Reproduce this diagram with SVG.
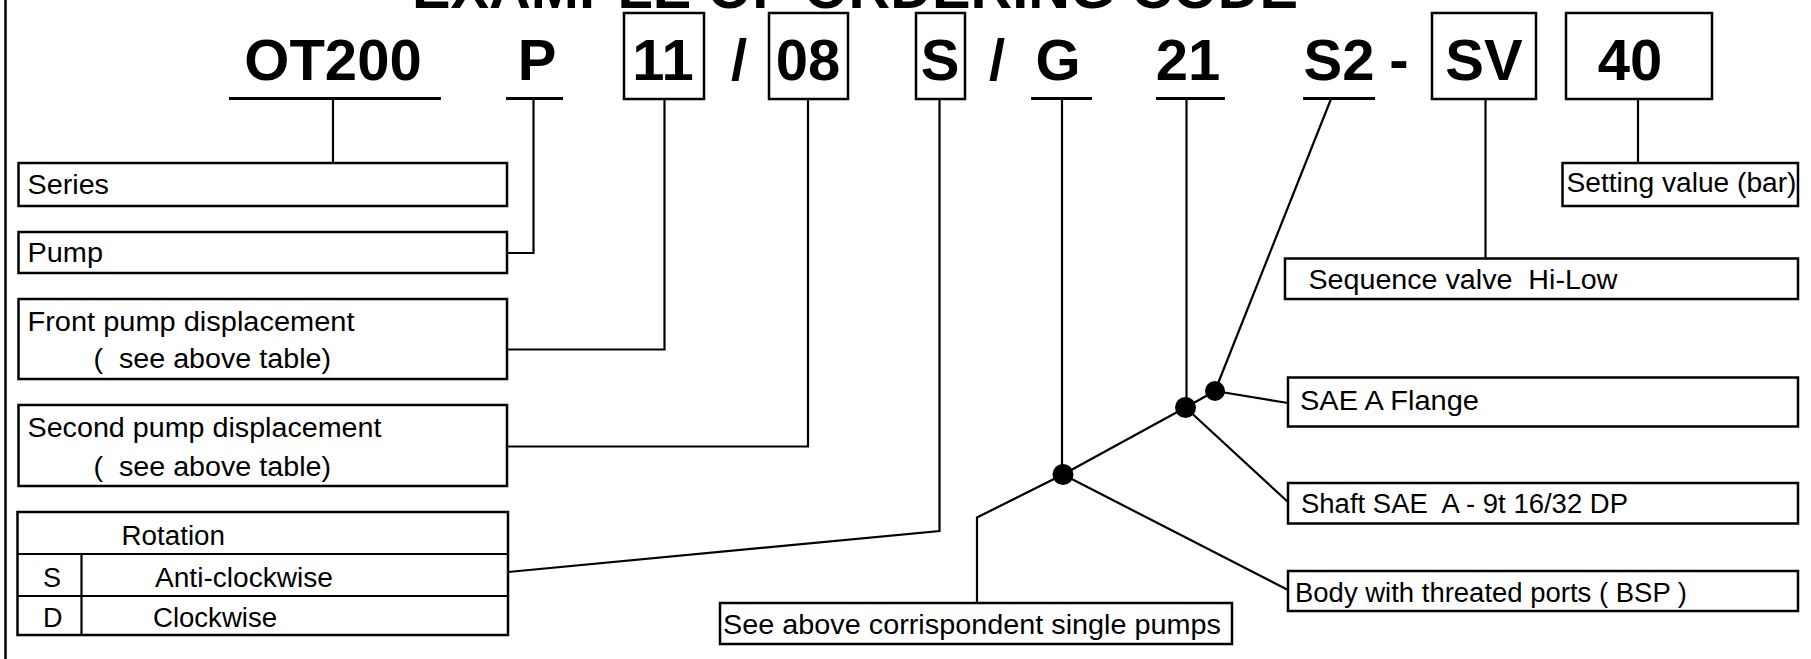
<svg xmlns="http://www.w3.org/2000/svg" width="1811" height="659" viewBox="0 0 1811 659">
<style>
.code{font-family:"Liberation Sans",Arial,sans-serif;font-weight:bold;font-size:58px;fill:#000;text-anchor:middle}
.lbl{font-family:"Liberation Sans",Arial,sans-serif;font-size:27px;fill:#000;white-space:pre}
.box{fill:#fff;stroke:#000;stroke-width:2.5}
.ln{fill:none;stroke:#000;stroke-width:2.2}
.ul{stroke:#000;stroke-width:3}
</style>
<rect x="0" y="0" width="1811" height="659" fill="#fff"/>
<line x1="5.5" y1="0" x2="5.5" y2="659" stroke="#000" stroke-width="2.5"/>
<text x="412" y="8" style="font-family:'Liberation Sans',Arial,sans-serif;font-weight:bold;font-size:58px" textLength="886" lengthAdjust="spacingAndGlyphs">EXAMPLE OF ORDERING CODE</text>

<g id="code">
  <rect class="box" x="624" y="13" width="80" height="86"/>
  <rect class="box" x="769" y="13" width="79" height="86"/>
  <rect class="box" x="916" y="13" width="49" height="86"/>
  <rect class="box" x="1432" y="13" width="104" height="86"/>
  <rect class="box" x="1566" y="13" width="146" height="86"/>
  <line class="ul" x1="229" y1="98.5" x2="441" y2="98.5"/>
  <line class="ul" x1="506" y1="98.5" x2="563" y2="98.5"/>
  <line class="ul" x1="1031" y1="98.5" x2="1092" y2="98.5"/>
  <line class="ul" x1="1156" y1="98.5" x2="1225" y2="98.5"/>
  <line class="ul" x1="1303" y1="98.5" x2="1375" y2="98.5"/>
  <text class="code" x="333" y="80">OT200</text>
  <text class="code" x="537" y="80">P</text>
  <text class="code" x="663" y="80">11</text>
  <text class="code" x="739" y="80">/</text>
  <text class="code" x="808" y="80">08</text>
  <text class="code" x="940" y="80">S</text>
  <text class="code" x="997" y="80">/</text>
  <text class="code" x="1058" y="80">G</text>
  <text class="code" x="1188" y="80">21</text>
  <text class="code" x="1339" y="80">S2</text>
  <text class="code" x="1399" y="80">-</text>
  <text class="code" x="1484" y="80">SV</text>
  <text class="code" x="1630" y="80">40</text>
</g>

<g id="connectors">
  <polyline class="ln" points="333,99 333,163"/>
  <polyline class="ln" points="533.5,99 533.5,253 507,253"/>
  <polyline class="ln" points="664.5,99 664.5,349.5 507,349.5"/>
  <polyline class="ln" points="808,99 808,446.5 507,446.5"/>
  <polyline class="ln" points="939.5,99 939.5,531 508,572"/>
  <polyline class="ln" points="1062,99 1062,474"/>
  <polyline class="ln" points="1186.5,99 1186.5,407"/>
  <polyline class="ln" points="1331,99 1215,391"/>
  <polyline class="ln" points="1215,391 1288,403"/>
  <polyline class="ln" points="1215,391 1185.5,407.5"/>
  <polyline class="ln" points="1185.5,407.5 1288,502"/>
  <polyline class="ln" points="1185.5,407.5 1063,474.5"/>
  <polyline class="ln" points="1063,474.5 1288,590"/>
  <polyline class="ln" points="1063,474.5 977,517.5 977,603"/>
  <polyline class="ln" points="1485.5,99 1485.5,258.5"/>
  <polyline class="ln" points="1638,99 1638,163"/>
  <circle cx="1215" cy="391" r="10" fill="#000"/>
  <circle cx="1185.5" cy="407.5" r="10.5" fill="#000"/>
  <circle cx="1063" cy="474.5" r="10.5" fill="#000"/>
</g>

<g id="series">
  <rect class="box" x="18.5" y="163" width="488.5" height="43"/>
  <text class="lbl" x="27.5" y="194" textLength="81.5" lengthAdjust="spacingAndGlyphs">Series</text>
</g>
<g id="pump">
  <rect class="box" x="18.5" y="232" width="488.5" height="41"/>
  <text class="lbl" x="27.5" y="262" textLength="75.5" lengthAdjust="spacingAndGlyphs">Pump</text>
</g>
<g id="front">
  <rect class="box" x="18.5" y="299" width="488.5" height="80"/>
  <text class="lbl" x="27.5" y="331" textLength="327" lengthAdjust="spacingAndGlyphs">Front pump displacement</text>
  <text class="lbl" x="93.5" y="368" textLength="237.5" lengthAdjust="spacingAndGlyphs">(  see above table)</text>
</g>
<g id="second">
  <rect class="box" x="18.5" y="405" width="488.5" height="81"/>
  <text class="lbl" x="27.5" y="437" textLength="354" lengthAdjust="spacingAndGlyphs">Second pump displacement</text>
  <text class="lbl" x="93.5" y="476" textLength="237.5" lengthAdjust="spacingAndGlyphs">(  see above table)</text>
</g>
<g id="rotation">
  <rect class="box" x="17.5" y="512" width="490.5" height="123"/>
  <line class="ln" x1="17.5" y1="554" x2="508" y2="554"/>
  <line class="ln" x1="17.5" y1="596" x2="508" y2="596"/>
  <line class="ln" x1="81.5" y1="554" x2="81.5" y2="635"/>
  <text class="lbl" x="121.5" y="545" textLength="103.5" lengthAdjust="spacingAndGlyphs">Rotation</text>
  <text class="lbl" x="43" y="587">S</text>
  <text class="lbl" x="155" y="587" textLength="178" lengthAdjust="spacingAndGlyphs">Anti-clockwise</text>
  <text class="lbl" x="43" y="627">D</text>
  <text class="lbl" x="153" y="627" textLength="124" lengthAdjust="spacingAndGlyphs">Clockwise</text>
</g>
<g id="setting">
  <rect class="box" x="1562.5" y="163" width="235.5" height="43"/>
  <text class="lbl" x="1566.5" y="192" textLength="230" lengthAdjust="spacingAndGlyphs">Setting value (bar)</text>
</g>
<g id="sequence">
  <rect class="box" x="1285" y="258.5" width="513" height="40.5"/>
  <text class="lbl" x="1308.5" y="289" textLength="309" lengthAdjust="spacingAndGlyphs">Sequence valve  Hi-Low</text>
</g>
<g id="flange">
  <rect class="box" x="1288" y="377.5" width="510" height="49"/>
  <text class="lbl" x="1300" y="410" textLength="179" lengthAdjust="spacingAndGlyphs">SAE A Flange</text>
</g>
<g id="shaft">
  <rect class="box" x="1288" y="483" width="510" height="40.5"/>
  <text class="lbl" x="1301" y="513" textLength="327" lengthAdjust="spacingAndGlyphs">Shaft SAE  A - 9t 16/32 DP</text>
</g>
<g id="body">
  <rect class="box" x="1288" y="571" width="510" height="40"/>
  <text class="lbl" x="1295" y="602" textLength="392" lengthAdjust="spacingAndGlyphs">Body with threated ports ( BSP )</text>
</g>
<g id="single">
  <rect class="box" x="720" y="603" width="512" height="41"/>
  <text class="lbl" x="723" y="633.5" textLength="498" lengthAdjust="spacingAndGlyphs">See above corrispondent single pumps</text>
</g>
</svg>
